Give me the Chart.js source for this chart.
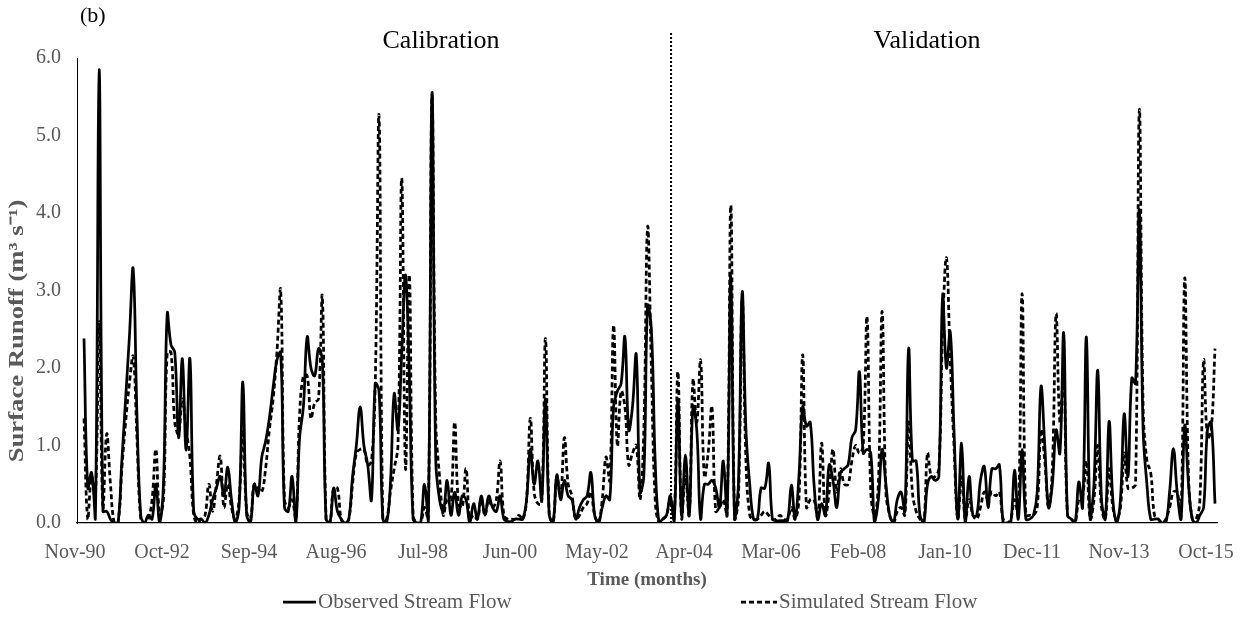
<!DOCTYPE html>
<html>
<head>
<meta charset="utf-8">
<script src="https://cdn.jsdelivr.net/npm/chart.js@4.4.1/dist/chart.umd.min.js"></script>
<style>
  html, body { margin: 0; padding: 0; background: #fff; }
  #wrap { width: 1248px; height: 619px; }
</style>
</head>
<body>
<div id="wrap"><canvas id="flow-chart" width="1248" height="619"></canvas></div>
<script>
// monthly surface runoff, Nov-90 .. Oct-15 (300 months)
const observed = [
  2.38, 0.45, 0.65, 0.05, 5.85, 0.15, 0.15, 0.05, 0.0, 0.0,
  0.8, 1.6, 2.4, 3.28, 1.4, 0.1, 0.0, 0.1, 0.05, 0.5,
  0.0, 0.5, 2.7, 2.3, 2.2, 1.1, 2.12, 0.94, 2.12, 0.15,
  0.05, 0.05, 0.0, 0.1, 0.3, 0.45, 0.6, 0.35, 0.72, 0.3,
  0.0, 0.2, 1.82, 0.1, 0.0, 0.5, 0.35, 0.85, 1.05, 1.35,
  1.75, 2.1, 2.2, 0.2, 0.15, 0.6, 0.0, 1.1, 1.5, 2.4,
  2.0, 1.9, 2.25, 2.1, 0.05, 0.0, 0.45, 0.15, 0.05, 0.0,
  0.05, 0.6, 1.0, 1.5, 1.0, 0.75, 0.3, 1.8, 1.7, 0.05,
  0.0, 0.5, 1.67, 1.2, 2.2, 3.2, 1.9, 0.05, 0.0, 0.0,
  0.5, 0.0, 5.55, 0.8, 0.3, 0.15, 0.55, 0.1, 0.4, 0.1,
  0.35, 0.3, 0.0, 0.25, 0.05, 0.35, 0.1, 0.35, 0.2, 0.15,
  0.35, 0.05, 0.02, 0.02, 0.05, 0.05, 0.05, 0.3, 0.95, 0.5,
  0.8, 0.3, 1.6, 0.1, 0.0, 0.62, 0.3, 0.55, 0.35, 0.3,
  0.05, 0.2, 0.3, 0.35, 0.65, 0.1, 0.0, 0.2, 0.35, 0.3,
  1.5, 1.7, 1.8, 2.4, 1.2, 1.5, 2.17, 0.4, 0.6, 2.8,
  2.5, 0.8, 0.0, 0.05, 0.1, 0.35, 0.0, 1.6, 0.1, 0.88,
  0.1, 1.5, 1.2, 0.05, 0.5, 0.5, 0.55, 0.45, 0.2, 0.8,
  0.1, 3.2, 0.05, 0.5, 2.98, 1.2, 0.5, 0.05, 0.05, 0.45,
  0.45, 0.77, 0.05, 0.03, 0.03, 0.03, 0.03, 0.49, 0.05, 0.6,
  1.5, 1.25, 1.3, 0.5, 0.05, 0.25, 0.1, 0.75, 0.55, 0.2,
  0.65, 0.7, 0.75, 1.1, 1.2, 1.95, 0.9, 0.95, 0.9, 0.0,
  0.3, 0.95, 0.5, 0.1, 0.0, 0.3, 0.4, 0.15, 2.25, 0.8,
  0.8, 0.1, 0.0, 0.5, 0.6, 0.55, 0.6, 2.94, 2.0, 2.47,
  1.2, 0.05, 1.03, 0.0, 0.6, 0.1, 0.1, 0.55, 0.73, 0.2,
  0.7, 0.7, 0.75, 0.0, 0.0, 0.0, 0.68, 0.05, 0.95, 0.05,
  0.05, 0.1, 0.4, 1.76, 1.0, 0.2, 0.5, 1.2, 0.9, 2.45,
  0.1, 0.05, 0.0, 0.53, 0.2, 2.4, 0.05, 0.5, 1.97, 0.3,
  0.05, 1.31, 0.3, 0.0, 0.3, 1.41, 0.6, 1.87, 1.8, 4.04,
  1.2, 0.5, 0.05, 0.05, 0.05, 0.0, 0.0, 0.4, 0.96, 0.4,
  0.05, 1.26, 0.5, 0.05, 0.0, 0.1, 0.2, 1.2, 1.3, 0.25
];

const simulated = [
  1.35, 0.05, 0.6, 0.3, 2.6, 0.2, 1.15, 0.5, 0.0, 0.0,
  0.7, 1.3, 1.8, 2.15, 1.1, 0.05, 0.0, 0.05, 0.3, 0.95,
  0.1, 0.3, 2.2, 2.2, 1.3, 1.15, 1.6, 1.2, 0.85, 0.1,
  0.0, 0.05, 0.1, 0.5, 0.15, 0.5, 0.86, 0.2, 0.5, 0.2,
  0.05, 0.3, 1.2, 0.15, 0.05, 0.5, 0.45, 0.4, 0.7, 1.2,
  1.6, 2.2, 3.0, 0.3, 0.2, 0.3, 0.05, 1.4, 1.9, 1.9,
  1.35, 1.55, 1.6, 2.92, 0.05, 0.0, 0.45, 0.45, 0.05, 0.0,
  0.05, 0.5, 0.9, 0.95, 0.95, 0.75, 0.8, 1.8, 5.25, 0.05,
  0.05, 0.4, 0.7, 1.0, 4.45, 0.7, 3.2, 0.1, 0.0, 0.0,
  0.2, 0.05, 5.5, 1.3, 0.6, 0.1, 0.3, 0.3, 1.3, 0.25,
  0.2, 0.7, 0.05, 0.1, 0.05, 0.3, 0.1, 0.3, 0.2, 0.3,
  0.8, 0.1, 0.05, 0.05, 0.05, 0.1, 0.05, 0.3, 1.35, 0.4,
  0.25, 0.25, 2.38, 0.1, 0.0, 0.6, 0.35, 1.1, 0.5, 0.35,
  0.05, 0.1, 0.2, 0.25, 0.4, 0.1, 0.0, 0.3, 0.85, 0.55,
  2.55, 1.0, 1.7, 1.5, 0.75, 0.9, 1.0, 0.3, 1.2, 3.82,
  2.0, 0.3, 0.0, 0.05, 0.1, 0.3, 0.05, 1.95, 0.05, 0.6,
  0.1, 1.85, 1.3, 2.1, 0.6, 0.9, 1.5, 0.15, 0.2, 0.3,
  0.1, 4.1, 0.05, 0.3, 2.9, 0.8, 0.1, 0.05, 0.05, 0.1,
  0.15, 0.1, 0.05, 0.05, 0.1, 0.05, 0.05, 0.2, 0.05, 0.3,
  2.17, 0.2, 0.3, 0.3, 0.05, 1.03, 0.1, 0.4, 0.95, 0.4,
  0.7, 0.5, 0.5, 0.8, 1.0, 0.9, 1.0, 2.66, 0.4, 0.1,
  0.5, 2.73, 0.4, 0.1, 0.0, 0.15, 0.2, 0.1, 1.3, 0.4,
  0.15, 0.05, 0.0, 0.9, 0.6, 0.6, 0.7, 2.5, 3.42, 2.1,
  1.0, 0.05, 0.6, 0.05, 0.3, 0.1, 0.05, 0.2, 0.4, 0.3,
  0.4, 0.35, 0.4, 0.05, 0.0, 0.05, 0.3, 0.1, 2.96, 0.1,
  0.1, 0.1, 0.2, 1.2, 0.8, 0.2, 0.7, 2.7, 1.3, 1.9,
  0.1, 0.05, 0.0, 0.3, 0.35, 0.8, 0.05, 0.3, 1.0, 0.2,
  0.05, 0.7, 0.2, 0.05, 0.2, 0.9, 0.45, 0.45, 0.5, 5.33,
  1.5, 0.8, 0.65, 0.1, 0.05, 0.0, 0.05, 0.2, 0.4, 0.4,
  0.05, 3.16, 0.6, 0.05, 0.05, 0.3, 2.1, 1.1, 1.2, 2.25
];

// x-axis labels, one every 23 months
const tickLabels = ['Nov-90','Oct-92','Sep-94','Aug-96','Jul-98','Jun-00','May-02',
                    'Apr-04','Mar-06','Feb-08','Jan-10','Dec-11','Nov-13','Oct-15'];
const tickIndex = [0, 23, 46, 69, 92, 115, 138, 161, 184, 207, 230, 253, 276, 299];

const seriesNames = ['Observed Stream Flow', 'Simulated Stream Flow'];
const periodNames = ['Calibration', 'Validation'];
const yTitle = 'Surface Runoff (m³ s⁻¹)';
const splitIndex = 155.2;   // calibration / validation boundary (month index)

const SERIF = '"Liberation Serif", "Times New Roman", serif';
const GREY = '#595959';
Chart.defaults.font.family = SERIF;
Chart.defaults.color = GREY;

// annotations, y title and legend drawn straight on the canvas
const extrasPlugin = {
    id: 'extras',
    afterDatasetsDraw(chart){
        const ctx = chart.ctx;
        const xs = chart.scales.x, area = chart.chartArea;
        const xSplit = xs.getPixelForValue(splitIndex);
        ctx.save();
        // dotted split line
        ctx.strokeStyle = '#000'; ctx.lineWidth = 2;
        ctx.setLineDash([2, 2]);
        ctx.beginPath(); ctx.moveTo(xSplit, 33); ctx.lineTo(xSplit, area.bottom); ctx.stroke();
        ctx.setLineDash([]);

        ctx.fillStyle = '#000';
        ctx.textBaseline = 'middle';
        ctx.textAlign = 'left';
        ctx.font = '22px ' + SERIF;
        ctx.fillText('(b)', 80, 16);

        ctx.textAlign = 'center';
        ctx.font = '26px ' + SERIF;
        ctx.fillText(periodNames[0], 441, 41);
        ctx.fillText(periodNames[1], 927, 41);

        // y axis title (stretched along its length like the original)
        ctx.save();
        ctx.translate(18, 331);
        ctx.rotate(-Math.PI / 2);
        ctx.scale(1.27, 1);
        ctx.fillStyle = GREY;
        ctx.font = 'bold 21px ' + SERIF;
        ctx.fillText(yTitle, 0, 0);
        ctx.restore();

        // legend
        const ly = 602;
        ctx.font = '21px ' + SERIF;
        ctx.fillStyle = GREY;
        ctx.textAlign = 'left';
        ctx.lineWidth = 2.75; ctx.strokeStyle = '#000';
        ctx.beginPath(); ctx.moveTo(283, ly); ctx.lineTo(316, ly); ctx.stroke();
        ctx.fillText(seriesNames[0], 318, ly);
        ctx.setLineDash([5, 3]);
        ctx.beginPath(); ctx.moveTo(741, ly); ctx.lineTo(777, ly); ctx.stroke();
        ctx.setLineDash([]);
        ctx.fillText(seriesNames[1], 779, ly);
        ctx.restore();
    }
};

const ctx = document.getElementById('flow-chart').getContext('2d');
new Chart(ctx, {
    type: 'line',
    data: {
        datasets: [
            { label: seriesNames[0], data: observed.map((y, i) => ({ x: i, y })),
              borderColor: '#000', borderWidth: 2.75, pointRadius: 0, tension: 0.4, order: 1 },
            { label: seriesNames[1], data: simulated.map((y, i) => ({ x: i, y })),
              borderColor: '#000', borderWidth: 2.75, borderDash: [5, 3], pointRadius: 0, tension: 0.4, order: 0 }
        ]
    },
    options: {
        responsive: false,
        animation: false,
        layout: { padding: { top: 58, right: 31, bottom: 20, left: 0 } },
        plugins: { legend: { display: false }, tooltip: { enabled: false } },
        scales: {
            x: {
                type: 'linear', min: -1.85, max: 299.53,
                grid: { display: false, drawTicks: false },
                border: { display: true, color: '#000', width: 1.3 },
                afterBuildTicks(scale){ scale.ticks = tickIndex.map(v => ({ value: v })); },
                afterFit(scale){ scale.height = 76; scale.paddingLeft = 0; scale.paddingRight = 0; },
                ticks: {
                    autoSkip: false, maxRotation: 0, padding: 18, labelOffset: -9,
                    font: { size: 20 }, color: GREY,
                    callback: (v) => tickLabels[tickIndex.indexOf(v)]
                },
                title: { display: true, text: 'Time (months)', color: GREY,
                         font: { size: 19, weight: 'bold' }, padding: { top: 0, bottom: 8 } }
            },
            y: {
                min: 0, max: 6,
                grid: { display: false, drawTicks: false },
                border: { display: true, color: '#000', width: 1 },
                afterFit(scale){ scale.width = 77; scale.paddingTop = 0; scale.paddingBottom = 0; },
                ticks: { stepSize: 1, padding: 16, font: { size: 20 }, color: GREY,
                         callback: (v) => v.toFixed(1) },
                title: { display: false }
            }
        }
    },
    plugins: [extrasPlugin]
});
</script>
</body>
</html>
